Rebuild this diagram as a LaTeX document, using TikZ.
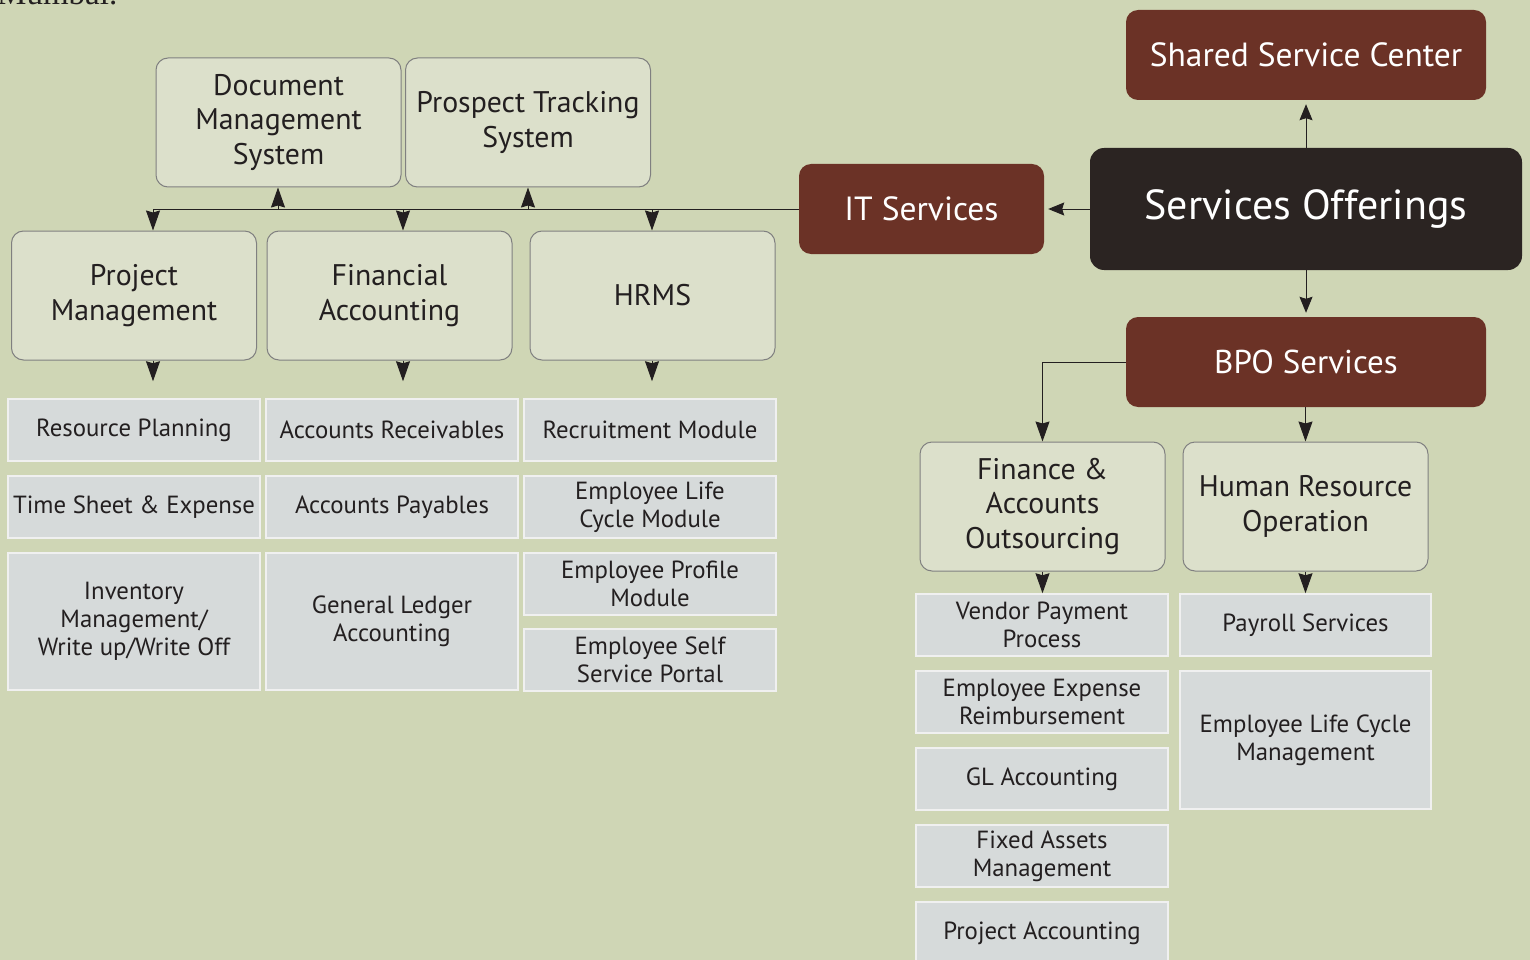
\documentclass[tikz,border=0pt]{standalone}
\usepackage{fontspec}
\setmainfont{PT Sans}
\newfontfamily\serifmum{Liberation Serif}
\usetikzlibrary{arrows.meta}
\definecolor{bgc}{HTML}{CFD6B5}
\definecolor{lightfill}{HTML}{DCE0CB}
\definecolor{grayfill}{HTML}{D6DADA}
\definecolor{redbox}{HTML}{6B3226}
\definecolor{darkbox}{HTML}{2B2422}
\definecolor{txt}{HTML}{231F20}
\tikzset{
  lightbox/.style={draw=black!50, line width=1pt, fill=lightfill, rounded corners=12pt,
    minimum width=245pt, minimum height=129pt, inner sep=0pt, align=center,
    text=txt, font=\fontsize{29.8}{34.5}\selectfont},
  graybox/.style={draw=white!94!black, line width=1.5pt, fill=grayfill,
    minimum width=252pt, minimum height=62pt, inner sep=0pt, align=center,
    text=txt, font=\fontsize{24.8}{28}\selectfont},
  redbx/.style={fill=redbox, rounded corners=12pt, minimum width=360pt, minimum height=90pt,
    inner sep=0pt, align=center, text=white, font=\fontsize{33.5}{38}\selectfont},
  arr/.style={draw=txt, line width=1pt, -{Stealth[length=20pt,width=14pt,inset=2pt]}},
  arrs/.style={draw=txt, line width=1pt, -{Stealth[length=16pt,width=13pt,inset=2pt]}},
}
\begin{document}
\begin{tikzpicture}[x=1pt,y=-1pt]
\fill[bgc] (0,0) rectangle (1530,960);
\useasboundingbox (0,0) rectangle (1530,960);
\clip (0,0) rectangle (1530,960);
\node[anchor=base west, inner sep=0pt, font=\serifmum\fontsize{33}{36}\selectfont, text=txt] (mum) at (-3,5) {Mumbai.};
% dark boxes
\node[redbx] (ssc) at (1306,55) {Shared Service Center};
\node[fill=darkbox, rounded corners=14pt, minimum width=432pt, minimum height=122pt, inner sep=0pt,
  text=white, font=\fontsize{42}{50}\selectfont] (so) at (1306,209) {Services Offerings};
\node[redbx, minimum width=245pt, font=\fontsize{33.5}{38}\selectfont] (it) at (921.5,209) {IT Services};
\node[redbx, font=\fontsize{33}{38}\selectfont] (bpo) at (1306,362) {BPO Services};
% light boxes
\node[lightbox] (doc) at (278.5,122.5) {Document\\Management\\System};
\node[lightbox] (pts) at (528,122.5) {Prospect Tracking\\System};
\node[lightbox] (pm) at (134,295.5) {Project\\Management};
\node[lightbox] (fa) at (389.5,295.5) {Financial\\Accounting};
\node[lightbox] (hrms) at (652.5,295.5) {HRMS};
\node[lightbox] (fao) at (1042.5,506.5) {Finance \&\\Accounts\\Outsourcing};
\node[lightbox] (hro) at (1305.5,506.5) {Human Resource\\Operation};
% gray boxes col1
\node[graybox] (rp) at (134,430) {Resource Planning};
\node[graybox] (ts) at (134,507) {Time Sheet \& Expense};
\node[graybox, minimum height=137pt] (inv) at (134,621.5) {Inventory\\Management/\\Write up/Write Off};
% col2
\node[graybox] (ar) at (392,430) {Accounts Receivables};
\node[graybox] (ap) at (392,507) {Accounts Payables};
\node[graybox, minimum height=137pt] (gl) at (392,621.5) {General Ledger\\Accounting};
% col3
\node[graybox] (rm) at (650,430) {Recruitment Module};
\node[graybox] (elc) at (650,507) {Employee Life\\Cycle Module};
\node[graybox] (epm) at (650,584) {Employee Profile\\Module};
\node[graybox] (ess) at (650,660) {Employee Self\\Service Portal};
% col4
\node[graybox] (vpp) at (1042,625) {Vendor Payment\\Process};
\node[graybox] (eer) at (1042,702) {Employee Expense\\Reimbursement};
\node[graybox] (gla) at (1042,779) {GL Accounting};
\node[graybox] (fam) at (1042,856) {Fixed Assets\\Management};
\node[graybox] (pa) at (1042,933) {Project Accounting};
% col5
\node[graybox, minimum width=251pt] (ps) at (1305.5,625) {Payroll Services};
\node[graybox, minimum width=251pt, minimum height=138pt] (elcm) at (1305.5,740) {Employee Life Cycle\\Management};
% connectors from services offerings
\draw[arrs, shorten >=4pt] (so.north) -- (ssc.south);
\draw[arrs, shorten >=4pt] (so.south) -- (bpo.north);
\draw[arrs, shorten >=4pt] (so.west) -- (it.east);
% IT bus
\coordinate (b1) at (153,209);
\coordinate (b2) at (278,209);
\coordinate (b3) at (403,209);
\coordinate (b4) at (528,209);
\coordinate (b5) at (652,209);
\draw[draw=txt, line width=1pt] (it.west) -- (b1);
\draw[arr] (b1) -- (b1 |- pm.north);
\draw[arr] (b3) -- (b3 |- fa.north);
\draw[arr] (b5) -- (b5 |- hrms.north);
\draw[arr] (b2) -- (b2 |- doc.south);
\draw[arr] (b4) -- (b4 |- pts.south);
% down to lists
\draw[arr, shorten >=17pt] (pm.south -| b1) -- (rp.north -| b1);
\draw[arr, shorten >=17pt] (fa.south -| b3) -- (ar.north -| b3);
\draw[arr, shorten >=17pt] (hrms.south -| b5) -- (rm.north -| b5);
% BPO
\draw[arr] (bpo.west) -| (fao.north);
\draw[arr] (bpo.south -| hro.north) -- (hro.north);
\draw[arr] (fao.south) -- (vpp.north -| fao.south);
\draw[arr] (hro.south) -- (ps.north -| hro.south);
\end{tikzpicture}
\end{document}
